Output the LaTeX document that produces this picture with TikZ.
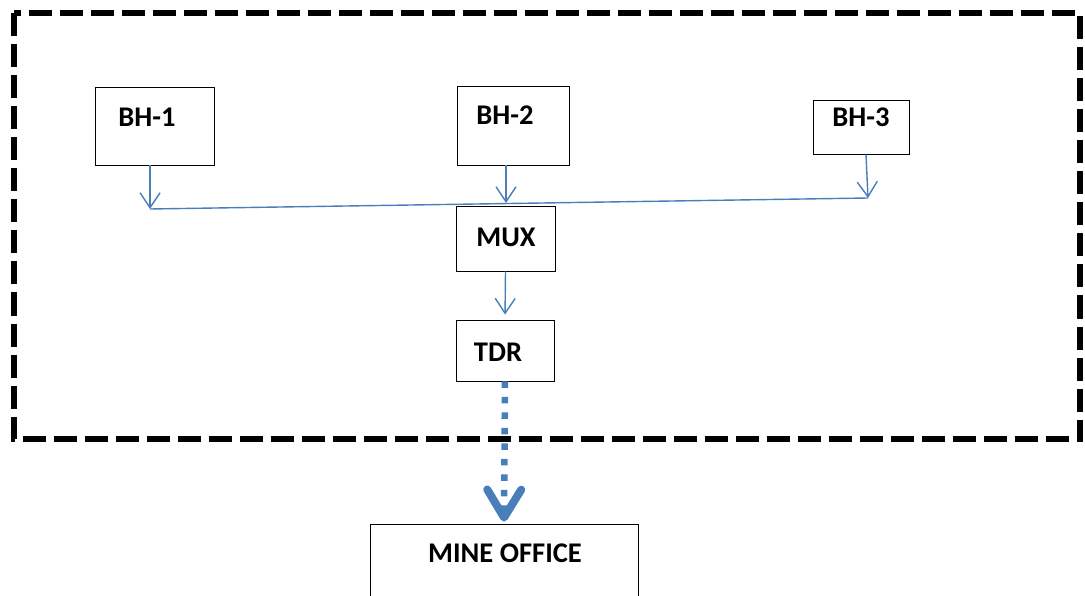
\documentclass[tikz,border=0pt]{standalone}
\usepackage{fontspec}
\setmainfont{Carlito}
\usetikzlibrary{arrows.meta}
\definecolor{linkblue}{HTML}{4A7EBB}
\tikzset{
  x=1pt, y=-1pt,
  box/.style={draw=black, line width=0.9pt, inner sep=0pt},
  lbl/.style={font=\fontsize{28.5}{32}\selectfont\bfseries, inner sep=0pt},
  arr/.style={draw=linkblue, line width=1.4pt,
    -{Straight Barb[length=15pt, width=20pt]}},
  bus/.style={draw=linkblue, line width=1.4pt},
  uplink/.style={draw=linkblue, line width=6.5pt, dash pattern=on 6.5pt off 9pt,
    -{Straight Barb[length=28pt, width=34pt, line width=8pt, line cap=round, line join=round]}},
  frame/.style={draw=black, line width=6pt, dash pattern=on 23pt off 8pt}
}
\begin{document}
\begin{tikzpicture}
\useasboundingbox (0,0) rectangle (1085,596);

% site boundary
\draw[frame] (14,13.5) rectangle (1080,439);

% boreholes
\node[box, minimum width=119pt, minimum height=78pt] (bh1) at (154.5,126) {};
\node[box, minimum width=112pt, minimum height=79pt] (bh2) at (513,125.5) {};
\node[box, minimum width=96pt, minimum height=54pt] (bh3) at (861,127) {};
\node[lbl] (t1) at (147,117) {BH-1};
\node[lbl] (t2) at (505,115) {BH-2};
\node[lbl] (t3) at (861,117) {BH-3};

% multiplexer and TDR
\node[box, minimum width=99pt, minimum height=65pt] (mux) at (505.5,238.5) {};
\node[lbl] (tm) at (506,237) {MUX};
\node[box, minimum width=98pt, minimum height=61pt] (tdr) at (505,350.5) {};
\node[lbl] (tt) at (498,352) {TDR};

% mine office
\node[box, minimum width=268pt, minimum height=90pt] (mine) at (504,569) {};
\node[lbl] (to) at (505,553) {MINE OFFICE};

% common cable
\coordinate (j1) at (150,209);
\coordinate (j2) at (506,203);
\coordinate (j3) at (868,198);
\draw[bus] (j1) -- (j3);

\draw[arr] ([xshift=-4.5pt]bh1.south) -- (j1);
\draw[arr] ([xshift=-7pt]bh2.south) -- (j2);
\draw[arr] ([xshift=5pt]bh3.south) -- (j3);
\draw[arr, shorten >=5pt] (mux.south) -- (tdr.north);

% link to the office
\draw[uplink, shorten >=2pt] (tdr.south) -- (mine.north);
\end{tikzpicture}
\end{document}
